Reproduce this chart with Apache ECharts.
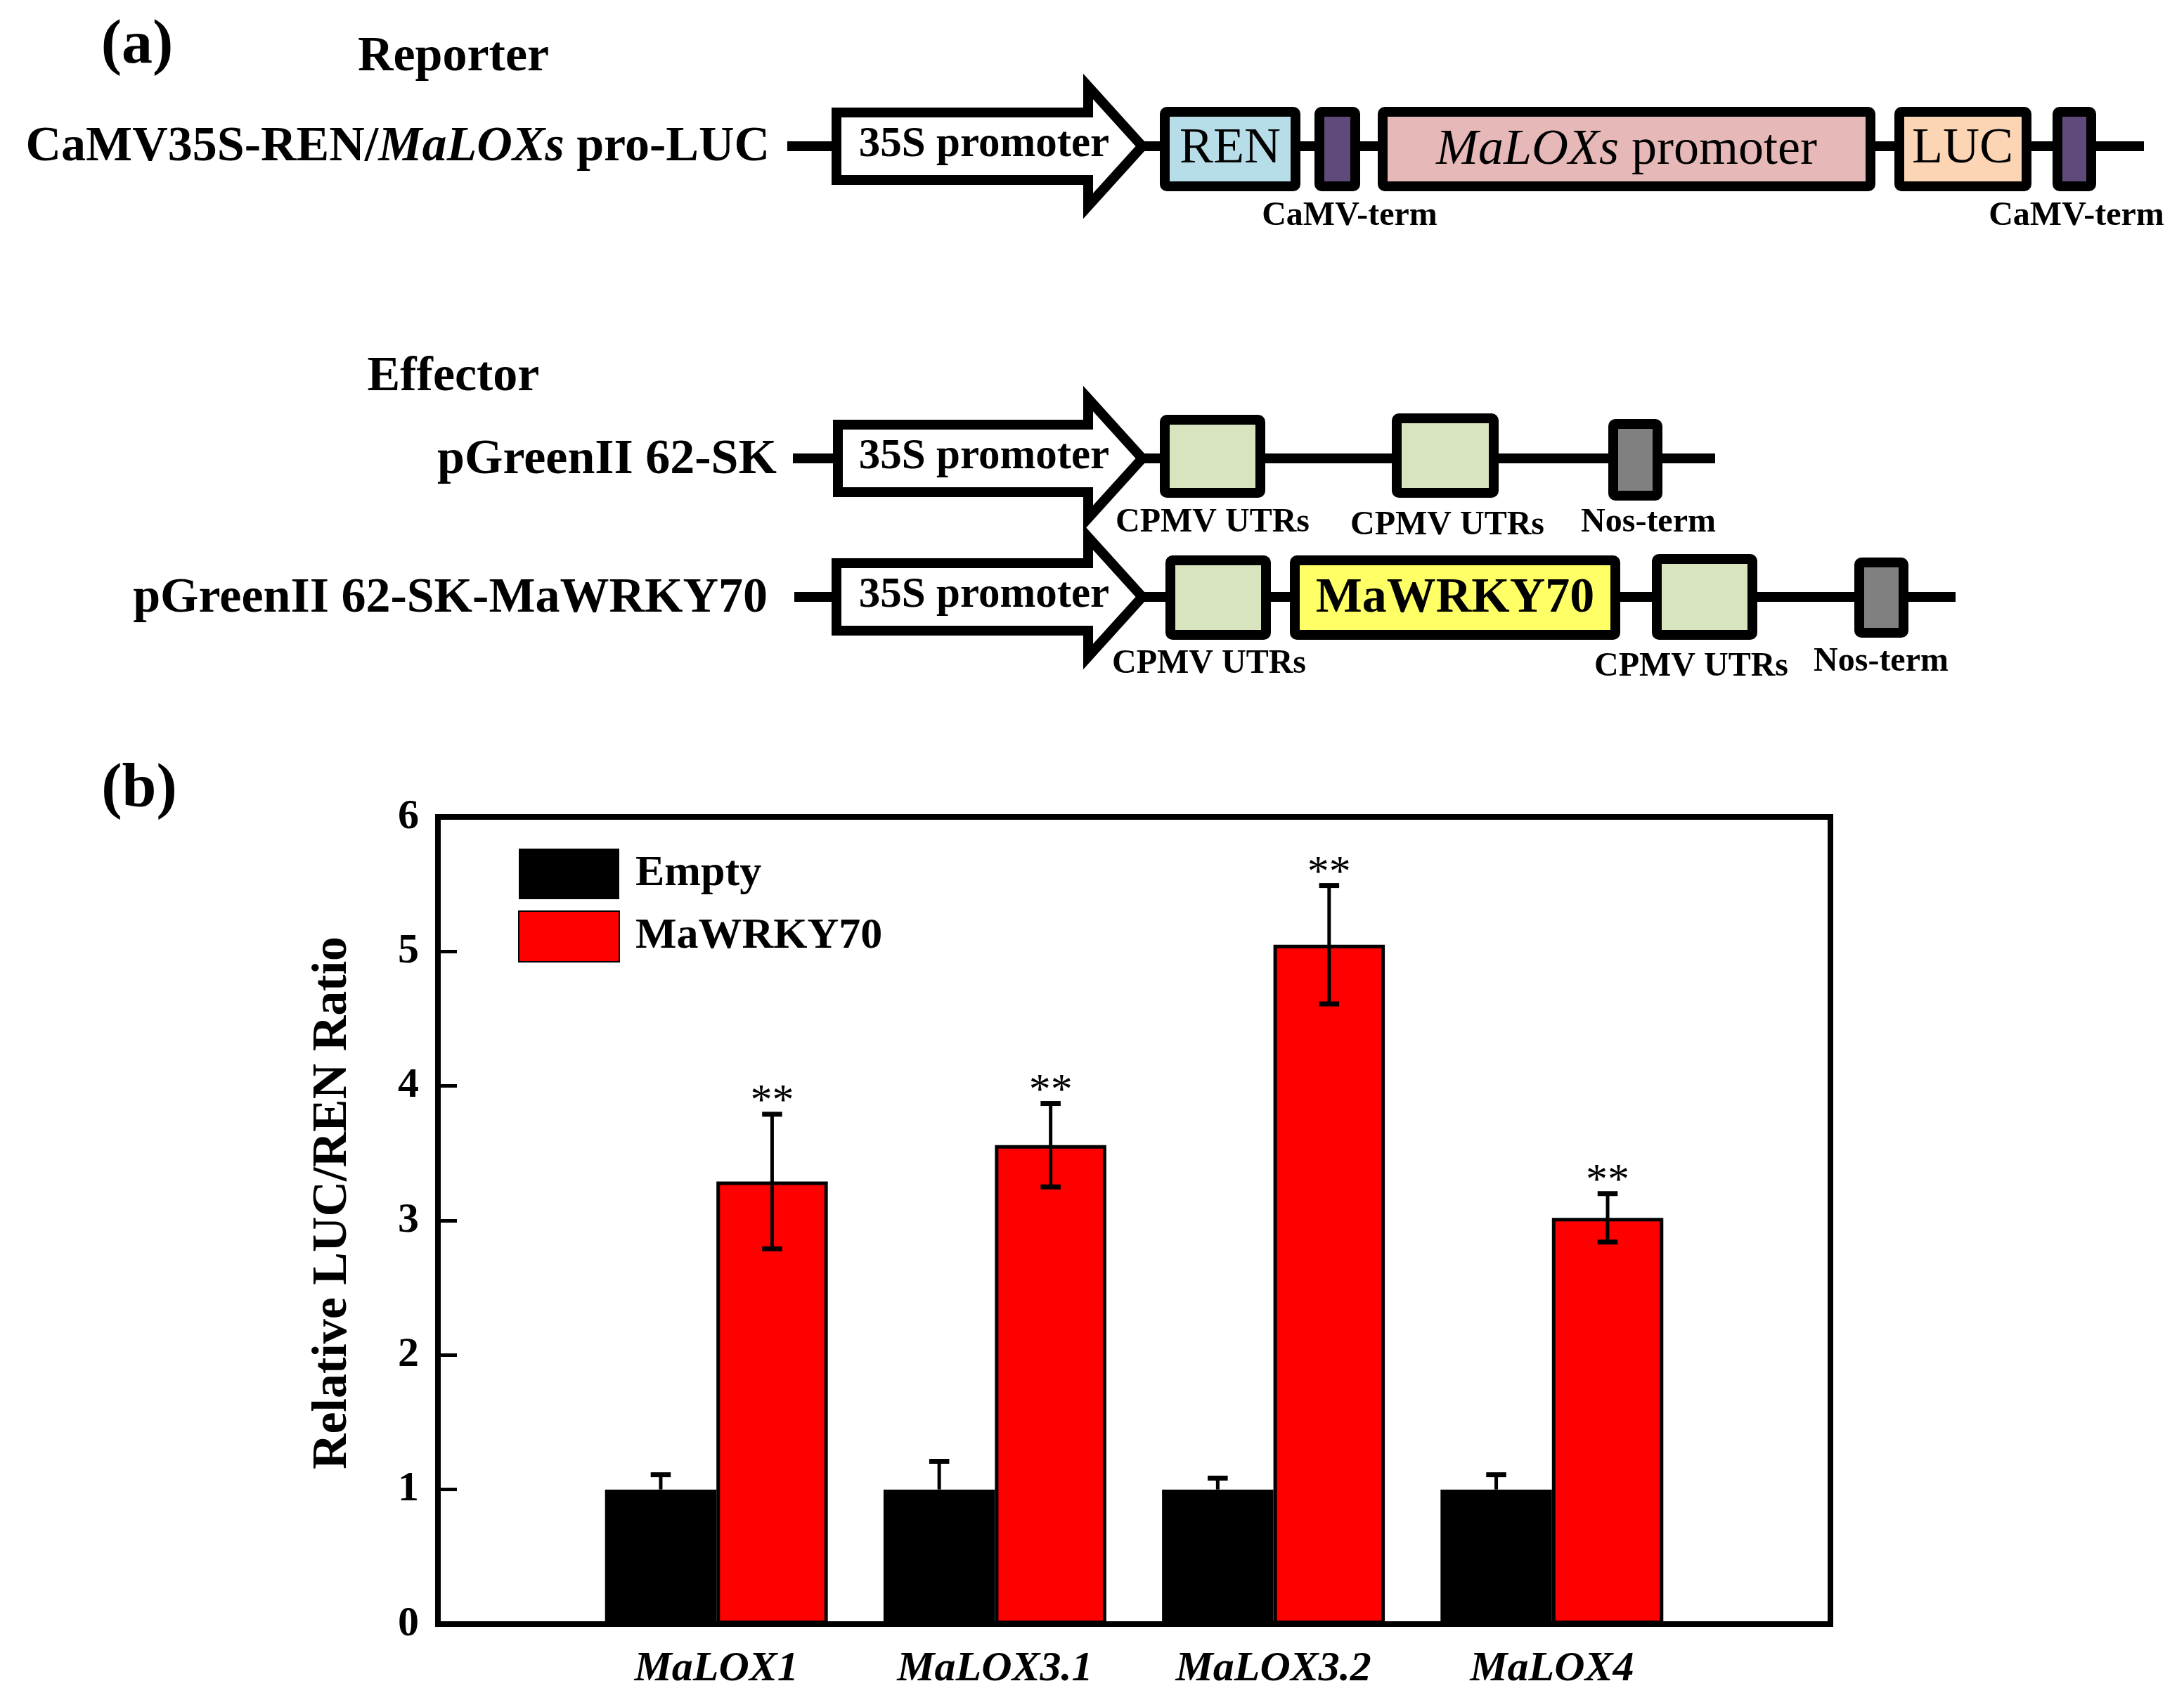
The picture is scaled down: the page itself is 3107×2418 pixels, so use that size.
<!DOCTYPE html>
<html>
<head>
<meta charset="utf-8">
<script src="https://cdn.jsdelivr.net/npm/echarts@6/dist/echarts.min.js"></script>
<style>
html,body{margin:0;padding:0;background:#fff;}
#chart{width:3107px;height:2418px;}
</style>
</head>
<body>
<div id="chart"></div>
<script>
// ---------- data ----------
const categories = ['', 'MaLOX1', 'MaLOX3.1', 'MaLOX3.2', 'MaLOX4', ''];
const seriesNames = ['Empty', 'MaWRKY70'];
const emptyMean = [1.0, 1.0, 1.0, 1.0];
const emptyErr = [0.11, 0.21, 0.085, 0.11];
const wrkyMean = [3.29, 3.56, 5.05, 3.02];
const wrkyErr = [0.50, 0.31, 0.44, 0.18];
const significance = ['**', '**', '**', '**'];
const yTicks = [0, 1, 2, 3, 4, 5, 6];

// ---------- helpers ----------
const SERIF = "'Liberation Serif','Times New Roman',serif";
function pad(arr) { return [null].concat(arr).concat([null]); }
function errData(means, errs) { return means.map((m, i) => [i + 1, m, errs[i], i]); }

function errRender(offsetFrac, twoSided, sigs) {
  return function (params, api) {
    const x = api.value(0), m = api.value(1), e = api.value(2), idx = api.value(3);
    const band = api.size([1, 0])[0];
    const top = api.coord([x, m + e]);
    const bot = api.coord([x, twoSided ? m - e : m]);
    const cx = top[0] + offsetFrac * band;
    const cap = band * 0.036;
    const ls = { stroke: '#000', lineWidth: 5 };
    const children = [
      { type: 'line', shape: { x1: cx, y1: top[1], x2: cx, y2: bot[1] }, style: ls },
      { type: 'line', shape: { x1: cx - cap, y1: top[1], x2: cx + cap, y2: top[1] }, style: { stroke: '#000', lineWidth: 7 } }
    ];
    if (twoSided) {
      children.push({ type: 'line', shape: { x1: cx - cap, y1: bot[1], x2: cx + cap, y2: bot[1] }, style: { stroke: '#000', lineWidth: 7 } });
    }
    if (sigs) {
      children.push({ type: 'text', style: { text: sigs[idx], x: cx, y: top[1] + 14, align: 'center', verticalAlign: 'bottom', font: 'normal 62px ' + SERIF, fill: '#000' } });
    }
    return { type: 'group', children: children };
  };
}

// ---------- schematic (panel a) ----------
const G = [];
const LW = 14;
function hline(x1, x2, y) { G.push({ type: 'line', z: 1, shape: { x1: x1, y1: y, x2: x2, y2: y }, style: { stroke: '#000', lineWidth: LW } }); }
function arrow(x1, cy) {
  const xb = 1548, tip = 1625, bh = 48, hh = 85;
  G.push({ type: 'polygon', z: 2, shape: { points: [[x1, cy - bh], [xb, cy - bh], [xb, cy - hh], [tip, cy], [xb, cy + hh], [xb, cy + bh], [x1, cy + bh]] },
    style: { fill: '#fff', stroke: '#000', lineWidth: LW, lineJoin: 'miter' } });
  G.push({ type: 'text', z: 3, style: { text: '35S promoter', x: 1400, y: cy - 2, align: 'center', verticalAlign: 'middle', font: 'bold 61px ' + SERIF, fill: '#000' } });
}
function box(x1, x2, y1, y2, fill) {
  const h = LW / 2;
  G.push({ type: 'rect', z: 2, shape: { x: x1 + h, y: y1 + h, width: x2 - x1 - LW, height: y2 - y1 - LW, r: 3 },
    style: { fill: fill, stroke: '#000', lineWidth: LW } });
}
function label(text, x, y, font, align) {
  G.push({ type: 'text', z: 3, style: { text: text, x: x, y: y, align: align || 'center', verticalAlign: 'middle', font: font, fill: '#000' } });
}
const BIG = 'bold 70px ' + SERIF;
const SMALL = 'bold 48px ' + SERIF;

label('(a)', 195, 66, 'bold 88px ' + SERIF);
label('Reporter', 645, 82, BIG);
label('Effector', 645, 537, BIG);
label('(b)', 198, 1124, 'bold 88px ' + SERIF);

// row 1
G.push({ type: 'text', z: 3, style: { text: '{n|CaMV35S-REN/}{i|MaLOXs}{n| pro-LUC}', x: 1095, y: 210, align: 'right', verticalAlign: 'middle',
  rich: { n: { font: 'bold 70px ' + SERIF, fill: '#000' }, i: { font: 'italic bold 70px ' + SERIF, fill: '#000' } } } });
hline(1120, 3050, 208);
arrow(1190, 208);
box(1650, 1850, 152, 272, '#b7dde8');
box(1870, 1935, 152, 272, '#604a7b');
box(1960, 2668, 152, 272, '#e6b9b8');
box(2695, 2890, 152, 272, '#fcd5b5');
box(2920, 2982, 152, 272, '#604a7b');
label('REN', 1750, 212, 'normal 72px ' + SERIF);
G.push({ type: 'text', z: 3, style: { text: '{i|MaLOXs}{n| promoter}', x: 2314, y: 214, align: 'center', verticalAlign: 'middle',
  rich: { n: { font: 'normal 72px ' + SERIF, fill: '#000' }, i: { font: 'italic 72px ' + SERIF, fill: '#000' } } } });
label('LUC', 2792, 212, 'normal 72px ' + SERIF);
label('CaMV-term', 1920, 308, SMALL);
label('CaMV-term', 2954, 308, SMALL);

// row 2
label('pGreenII 62-SK', 1105, 655, BIG, 'right');
hline(1128, 2440, 652);
arrow(1192, 652);
box(1650, 1800, 590, 708, '#d7e4bd');
box(1980, 2132, 588, 708, '#d7e4bd');
box(2288, 2365, 596, 712, '#808080');
label('CPMV UTRs', 1725, 744, SMALL);
label('CPMV UTRs', 2059, 748, SMALL);
label('Nos-term', 2345, 744, SMALL);

// row 3
label('pGreenII 62-SK-MaWRKY70', 1092, 852, BIG, 'right');
hline(1130, 2782, 849);
arrow(1190, 849);
box(1658, 1808, 790, 910, '#d7e4bd');
box(1835, 2305, 790, 910, '#ffff66');
box(2350, 2500, 788, 910, '#d7e4bd');
box(2638, 2715, 793, 907, '#808080');
label('MaWRKY70', 2070, 852, BIG);
label('CPMV UTRs', 1720, 945, SMALL);
label('CPMV UTRs', 2406, 949, SMALL);
label('Nos-term', 2676, 942, SMALL);

// ---------- chart (panel b) ----------
const chart = echarts.init(document.getElementById('chart'), null, { renderer: 'canvas' });
chart.setOption({
  backgroundColor: '#fff',
  animation: false,
  textStyle: { fontFamily: SERIF },
  grid: { left: 623, right: 503, top: 1162, bottom: 108, show: true, borderColor: '#000', borderWidth: 8, backgroundColor: 'transparent' },
  legend: {
    data: seriesNames, orient: 'vertical', left: 732, top: 1202, itemWidth: 143, itemHeight: 72, itemGap: 16,
    icon: 'rect',
    textStyle: { fontFamily: SERIF, fontWeight: 'bold', fontSize: 62, color: '#000', padding: [0, 0, 0, 18] }
  },
  xAxis: {
    type: 'category', data: categories, boundaryGap: false,
    axisLine: { lineStyle: { color: '#000', width: 8 } },
    axisTick: { show: false },
    axisLabel: { fontFamily: SERIF, fontWeight: 'bold', fontStyle: 'italic', fontSize: 60, color: '#000', margin: 34, interval: 0 },
    splitLine: { show: false }
  },
  yAxis: {
    type: 'value', min: yTicks[0], max: yTicks[yTicks.length - 1], interval: 1,
    name: 'Relative LUC/REN Ratio', nameLocation: 'middle', nameGap: 114, nameRotate: 90,
    nameTextStyle: { fontFamily: SERIF, fontWeight: 'bold', fontSize: 70, color: '#000', padding: [0, 0, 0, 50] },
    axisLine: { show: true, lineStyle: { color: '#000', width: 8 } },
    axisTick: { show: true, inside: true, length: 27, lineStyle: { color: '#000', width: 5 } },
    axisLabel: { fontFamily: SERIF, fontWeight: 'bold', fontSize: 60, color: '#000', margin: 27 },
    splitLine: { show: false }
  },
  graphic: G,
  series: [
    { name: seriesNames[0], type: 'bar', data: pad(emptyMean), barWidth: '40%', barGap: '0%',
      itemStyle: { color: '#000', borderColor: '#000', borderWidth: 0 } },
    { name: seriesNames[1], type: 'bar', data: pad(wrkyMean), barWidth: '40%', barGap: '0%',
      itemStyle: { color: '#ff0000', borderColor: '#000', borderWidth: 5 } },
    { type: 'custom', z: 5, data: errData(emptyMean, emptyErr), renderItem: errRender(-0.2, false, null), encode: { x: 0, y: 1 } },
    { type: 'custom', z: 5, data: errData(wrkyMean, wrkyErr), renderItem: errRender(0.2, true, significance), encode: { x: 0, y: 1 } }
  ]
});
</script>
</body>
</html>
